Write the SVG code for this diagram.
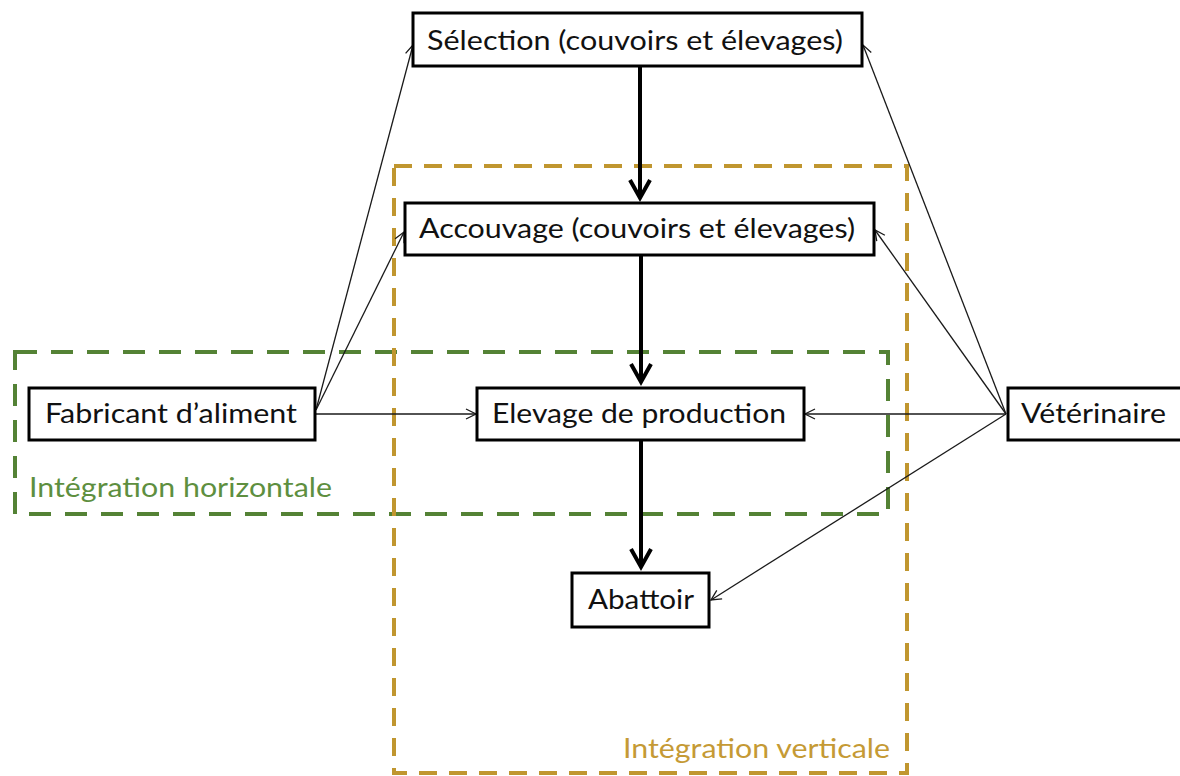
<svg xmlns="http://www.w3.org/2000/svg" width="1180" height="776" viewBox="0 0 1180 776">
<style>
.box{fill:#fff;stroke:#000;stroke-width:3}
.t{font-family:Lato,"Liberation Sans",sans-serif;font-size:27px;fill:#111}
.thick{stroke:#000;stroke-width:4;fill:none}
.thin{stroke:#1a1a1a;stroke-width:1.3;fill:none}
.green{fill:none;stroke:#548235;stroke-width:4;stroke-dasharray:22 14}
.gold{fill:none;stroke:#C0962F;stroke-width:4;stroke-dasharray:18 12}
.gt{font-family:Lato,"Liberation Sans",sans-serif;font-size:27px;fill:#5E8F3F}
.ot{font-family:Lato,"Liberation Sans",sans-serif;font-size:27px;fill:#C59A35}
</style>
<defs>
<marker id="big" markerUnits="userSpaceOnUse" viewBox="-24 -14 30 28" markerWidth="30" markerHeight="28" refX="0" refY="0" orient="auto" overflow="visible">
<path d="M-18,-10 L0,0 L-18,10" fill="none" stroke="#000" stroke-width="4"/>
</marker>
<marker id="small" markerUnits="userSpaceOnUse" viewBox="-12 -7 14 14" markerWidth="14" markerHeight="14" refX="0" refY="0" orient="auto" overflow="visible">
<path d="M-10,-5 L0,0 L-10,5" fill="none" stroke="#1a1a1a" stroke-width="1.3"/>
</marker>
</defs>
<g id="zone-horizontale">
<rect class="green" x="15" y="352" width="873" height="162"/>
<text class="gt" x="29" y="497" textLength="303" lengthAdjust="spacingAndGlyphs">Intégration horizontale</text>
</g>
<g id="zone-verticale">
<rect class="gold" x="394" y="166" width="513" height="607"/>
<text class="ot" x="623" y="758" textLength="267" lengthAdjust="spacingAndGlyphs">Intégration verticale</text>
</g>
<g id="connectors">
<line class="thick" x1="640" y1="66" x2="640" y2="198" marker-end="url(#big)"/>
<line class="thick" x1="641" y1="255" x2="641" y2="382" marker-end="url(#big)"/>
<line class="thick" x1="641" y1="441" x2="641" y2="567" marker-end="url(#big)"/>
<line class="thin" x1="316" y1="410" x2="413" y2="45" marker-end="url(#small)"/>
<line class="thin" x1="316" y1="410" x2="404" y2="232" marker-end="url(#small)"/>
<line class="thin" x1="316" y1="414" x2="476" y2="414" marker-end="url(#small)"/>
<line class="thin" x1="1006" y1="414" x2="863" y2="45" marker-end="url(#small)"/>
<line class="thin" x1="1006" y1="414" x2="875" y2="230" marker-end="url(#small)"/>
<line class="thin" x1="1006" y1="414" x2="805" y2="414" marker-end="url(#small)"/>
<line class="thin" x1="1006" y1="414" x2="711" y2="600" marker-end="url(#small)"/>
</g>
<g id="selection">
<rect class="box" x="413" y="13" width="449" height="53"/>
<text class="t" x="427" y="50" textLength="416" lengthAdjust="spacingAndGlyphs">Sélection (couvoirs et élevages)</text>
</g>
<g id="accouvage">
<rect class="box" x="405" y="203" width="469" height="52"/>
<text class="t" x="419" y="238" textLength="436" lengthAdjust="spacingAndGlyphs">Accouvage (couvoirs et élevages)</text>
</g>
<g id="fabricant">
<rect class="box" x="29" y="388" width="286" height="52"/>
<text class="t" x="45" y="423" textLength="252" lengthAdjust="spacingAndGlyphs">Fabricant d’aliment</text>
</g>
<g id="elevage">
<rect class="box" x="477" y="388" width="327" height="52"/>
<text class="t" x="492" y="423" textLength="294" lengthAdjust="spacingAndGlyphs">Elevage de production</text>
</g>
<g id="veterinaire">
<rect class="box" x="1008" y="388" width="180" height="52"/>
<text class="t" x="1021" y="423" textLength="145" lengthAdjust="spacingAndGlyphs">Vétérinaire</text>
</g>
<g id="abattoir">
<rect class="box" x="572" y="573" width="137" height="54"/>
<text class="t" x="588" y="609" textLength="106" lengthAdjust="spacingAndGlyphs">Abattoir</text>
</g>
</svg>
